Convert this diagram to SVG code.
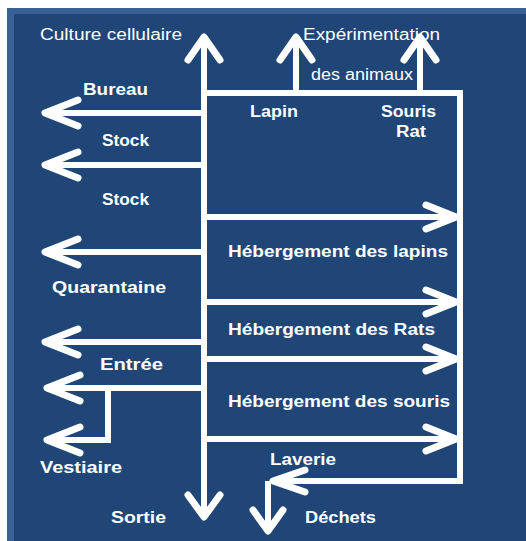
<svg xmlns="http://www.w3.org/2000/svg" width="526" height="541" viewBox="0 0 526 541">
<style>
.ln{stroke:#ffffff;stroke-width:6;fill:none;stroke-linecap:butt;stroke-linejoin:miter}
.hd{stroke:#ffffff;stroke-width:7;fill:none;stroke-linecap:round;stroke-linejoin:round}
.b{font-family:"Liberation Sans",Arial,sans-serif;font-weight:bold;font-size:16px;fill:#ffffff}
.r{font-family:"Liberation Sans",Arial,sans-serif;font-size:16px;fill:#ffffff}
</style>
<rect x="0" y="0" width="526" height="541" fill="#ffffff"/>
<rect x="7" y="8" width="519" height="533" fill="#1f4677"/>
<rect x="7" y="8" width="519" height="6" fill="#3a6194"/>
<rect x="7" y="8" width="7" height="533" fill="#3a6194"/>
<g id="connectors">
<path class="ln" d="M204 40V514"/>
<path class="ln" d="M204 93H460V481H272"/>
<path class="ln" d="M268 481V528"/>
<path class="ln" d="M296 93V41"/>
<path class="ln" d="M420 93V41"/>
<path class="ln" d="M204 113H48"/>
<path class="ln" d="M204 165H48"/>
<path class="ln" d="M204 252H48"/>
<path class="ln" d="M204 342H48"/>
<path class="ln" d="M204 388H50"/>
<path class="ln" d="M108 388V440H50"/>
<path class="ln" d="M204 217H455"/>
<path class="ln" d="M204 302H455"/>
<path class="ln" d="M204 359H455"/>
<path class="ln" d="M204 439H455"/>
<path class="hd" d="M188 60L204 37L220 60"/>
<path class="hd" d="M280 60L296 37L312 60"/>
<path class="hd" d="M404 60L420 37L436 60"/>
<path class="hd" d="M78 100L45 113L78 126"/>
<path class="hd" d="M78 152L45 165L78 178"/>
<path class="hd" d="M78 239L45 252L78 265"/>
<path class="hd" d="M78 329L45 342L78 355"/>
<path class="hd" d="M80 375L47 388L80 401"/>
<path class="hd" d="M80 427L47 440L80 453"/>
<path class="hd" d="M426 205L456 217L426 229"/>
<path class="hd" d="M426 290L456 302L426 314"/>
<path class="hd" d="M426 347L456 359L426 371"/>
<path class="hd" d="M426 427L456 439L426 451"/>
<path class="hd" d="M188 495L204 517L220 495"/>
<path class="hd" d="M305 470L273 481L305 492"/>
<path class="hd" d="M253 510L268 531L283 510"/>
</g>
<g id="culture"><text class="r" x="40" y="40" textLength="142" lengthAdjust="spacingAndGlyphs">Culture cellulaire</text></g>
<g id="experimentation">
<text class="r" x="303" y="40" textLength="137" lengthAdjust="spacingAndGlyphs">Expérimentation</text>
<text class="r" x="311" y="80" textLength="102" lengthAdjust="spacingAndGlyphs">des animaux</text>
</g>
<g id="lapin"><text class="b" x="250" y="117" textLength="48" lengthAdjust="spacingAndGlyphs">Lapin</text></g>
<g id="souris-rat">
<text class="b" x="381" y="117" textLength="55" lengthAdjust="spacingAndGlyphs">Souris</text>
<text class="b" x="396" y="137" textLength="30" lengthAdjust="spacingAndGlyphs">Rat</text>
</g>
<g id="bureau"><text class="b" x="83" y="95" textLength="65" lengthAdjust="spacingAndGlyphs">Bureau</text></g>
<g id="stock1"><text class="b" x="102" y="146" textLength="47" lengthAdjust="spacingAndGlyphs">Stock</text></g>
<g id="stock2"><text class="b" x="102" y="205" textLength="47" lengthAdjust="spacingAndGlyphs">Stock</text></g>
<g id="quarantaine"><text class="b" x="52" y="293" textLength="114" lengthAdjust="spacingAndGlyphs">Quarantaine</text></g>
<g id="entree"><text class="b" x="100" y="370" textLength="63" lengthAdjust="spacingAndGlyphs">Entrée</text></g>
<g id="vestiaire"><text class="b" x="40" y="473" textLength="82" lengthAdjust="spacingAndGlyphs">Vestiaire</text></g>
<g id="sortie"><text class="b" x="111" y="523" textLength="55" lengthAdjust="spacingAndGlyphs">Sortie</text></g>
<g id="heb-lapins"><text class="b" x="228" y="257" textLength="220" lengthAdjust="spacingAndGlyphs">Hébergement des lapins</text></g>
<g id="heb-rats"><text class="b" x="228" y="335" textLength="207" lengthAdjust="spacingAndGlyphs">Hébergement des Rats</text></g>
<g id="heb-souris"><text class="b" x="228" y="407" textLength="222" lengthAdjust="spacingAndGlyphs">Hébergement des souris</text></g>
<g id="laverie"><text class="b" x="270" y="465" textLength="66" lengthAdjust="spacingAndGlyphs">Laverie</text></g>
<g id="dechets"><text class="b" x="305" y="523" textLength="71" lengthAdjust="spacingAndGlyphs">Déchets</text></g>
</svg>
